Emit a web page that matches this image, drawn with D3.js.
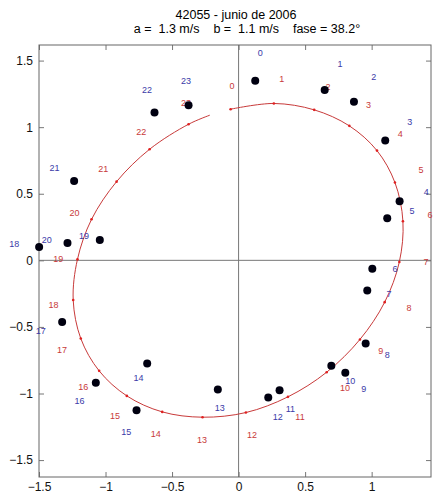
<!DOCTYPE html>
<html><head><meta charset="utf-8">
<script src="https://cdn.jsdelivr.net/npm/d3@7"></script>
<style>body{margin:0;background:#fff}svg{display:block}text{font-family:"Liberation Sans",Arial,Helvetica,sans-serif}</style>
</head><body>
<script>
const titleLine1 = "42055 - junio de 2006";
const titleLine2 = "a =  1.3 m/s    b =  1.1 m/s    fase = 38.2\u00b0";
const hours = d3.range(0, 24);
const obsX = [0.125, 0.647, 0.867, 1.102, 1.210, 1.117, 1.005, 0.967, 0.955, 0.802, 0.697, 0.308, 0.223, -0.156, -0.687, -0.767, -1.073, -1.326, -1.499, -1.043, -1.286, -1.236, -0.632, -0.376];
const obsY = [1.348, 1.280, 1.190, 0.899, 0.443, 0.316, -0.063, -0.226, -0.624, -0.845, -0.792, -0.975, -1.030, -0.970, -0.775, -1.126, -0.920, -0.464, 0.100, 0.153, 0.130, 0.596, 1.110, 1.165];
const ellX = [-0.060, 0.265, 0.568, 0.832, 1.040, 1.175, 1.235, 1.208, 1.098, 0.912, 0.662, 0.371, 0.055, -0.271, -0.574, -0.840, -1.048, -1.186, -1.243, -1.211, -1.105, -0.917, -0.669, -0.376];
const ellY = [1.135, 1.178, 1.130, 1.010, 0.824, 0.584, 0.293, -0.012, -0.314, -0.594, -0.840, -1.025, -1.143, -1.178, -1.138, -1.018, -0.830, -0.587, -0.298, 0.0075, 0.308, 0.591, 0.834, 1.022];
const ellEnd = [-0.216, 1.090];
const xTicks = [-1.5, -1, -0.5, 0, 0.5, 1];
const yTicks = [-1.5, -1, -0.5, 0, 0.5, 1, 1.5];
const labelScale = 1.15;

const W = 438, H = 495;
const L = 39, R = 431, T = 45, B = 477;
const x = d3.scaleLinear().domain([-1.5, 1.446]).range([L, R]);
const y = d3.scaleLinear().domain([-1.627, 1.617]).range([B, T]);

const svg = d3.select("body").append("svg").attr("width", W).attr("height", H);

// title
svg.append("text").attr("x", 236).attr("y", 19).attr("text-anchor", "middle")
  .attr("font-size", 12.5).attr("fill", "#000").text(titleLine1);
svg.append("text").attr("x", 247).attr("y", 33).attr("text-anchor", "middle")
  .attr("font-size", 12.5).attr("fill", "#000").style("white-space", "pre").text(titleLine2);

// zero lines
svg.append("line").attr("x1", L).attr("x2", R).attr("y1", y(0)).attr("y2", y(0)).attr("stroke", "#777").attr("stroke-width", 1);
svg.append("line").attr("y1", T).attr("y2", B).attr("x1", x(0)).attr("x2", x(0)).attr("stroke", "#777").attr("stroke-width", 1);

// axes
const tl = 5;
const styleText = g => g.selectAll("text").attr("font-size", 12).attr("fill", "#111").attr("font-family", "Liberation Sans, Arial, sans-serif");
svg.append("g").attr("transform", `translate(0,${B})`)
  .call(d3.axisBottom(x).tickValues(xTicks).tickSizeInner(-tl).tickSizeOuter(0).tickPadding(5).tickFormat(d3.format("")))
  .call(g => { g.select(".domain").remove(); g.selectAll("line").attr("stroke", "#777"); styleText(g); });
svg.append("g").attr("transform", `translate(0,${T})`)
  .call(d3.axisTop(x).tickValues(xTicks).tickSizeInner(-tl).tickSizeOuter(0).tickFormat(""))
  .call(g => { g.select(".domain").remove(); g.selectAll("line").attr("stroke", "#777"); });
svg.append("g").attr("transform", `translate(${L},0)`)
  .call(d3.axisLeft(y).tickValues(yTicks).tickSizeInner(-tl).tickSizeOuter(0).tickPadding(6).tickFormat(d3.format("")))
  .call(g => { g.select(".domain").remove(); g.selectAll("line").attr("stroke", "#777"); styleText(g); });
svg.append("g").attr("transform", `translate(${R},0)`)
  .call(d3.axisRight(y).tickValues(yTicks).tickSizeInner(-tl).tickSizeOuter(0).tickFormat(""))
  .call(g => { g.select(".domain").remove(); g.selectAll("line").attr("stroke", "#777"); });
svg.append("rect").attr("x", L).attr("y", T).attr("width", R - L).attr("height", B - T)
  .attr("fill", "none").attr("stroke", "#666").attr("stroke-width", 1);

// ellipse curve
const ellPts = hours.map(i => [ellX[i], ellY[i]]).concat([ellEnd]);
svg.append("path").attr("d", d3.line().x(d => x(d[0])).y(d => y(d[1])).curve(d3.curveCatmullRom)(ellPts))
  .attr("fill", "none").attr("stroke", "#c83a3a").attr("stroke-width", 1);
svg.selectAll(".em").data(hours).join("circle").attr("class", "em")
  .attr("cx", i => x(ellX[i])).attr("cy", i => y(ellY[i])).attr("r", 1.3).attr("fill", "#e02020");
svg.selectAll(".el").data(hours).join("text").attr("class", "el")
  .attr("x", i => x(ellX[i] * labelScale)).attr("y", i => y(ellY[i] * labelScale))
  .attr("dominant-baseline", "middle").attr("font-size", 9).attr("fill", "#c83a3a").text(i => i);

// observations
svg.selectAll(".od").data(hours).join("circle").attr("class", "od")
  .attr("cx", i => x(obsX[i])).attr("cy", i => y(obsY[i])).attr("r", 4).attr("fill", "#000010");
svg.selectAll(".ol").data(hours).join("text").attr("class", "ol")
  .attr("x", i => x(obsX[i] * labelScale)).attr("y", i => y(obsY[i] * labelScale))
  .attr("dominant-baseline", "middle").attr("font-size", 9).attr("fill", "#3a3aa8").text(i => i);
</script>
</body></html>
